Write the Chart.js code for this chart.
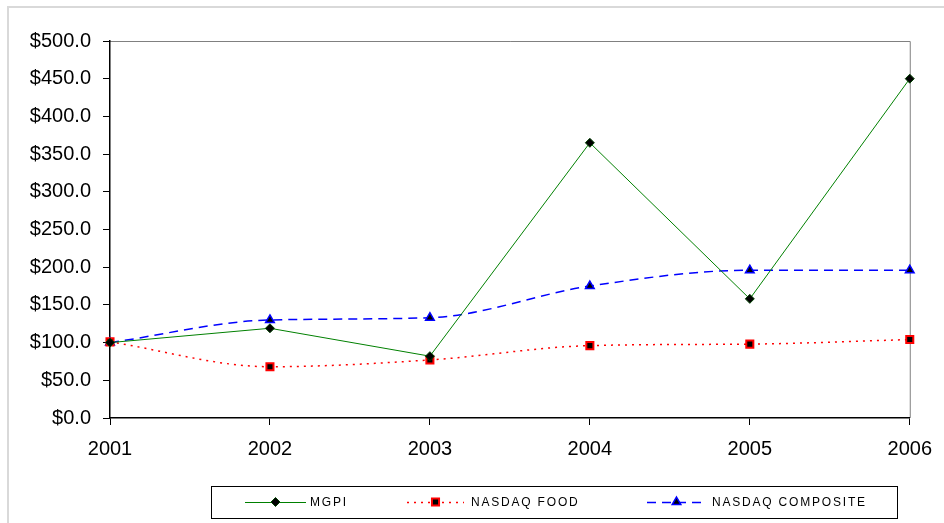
<!DOCTYPE html>
<html>
<head>
<meta charset="utf-8">
<script src="https://cdn.jsdelivr.net/npm/chart.js@4"></script>
<style>
  body { margin: 0; background: #fff; }
  #wrap { width: 944px; height: 523px; position: relative; }
</style>
</head>
<body>
<div id="wrap"><canvas id="perfChart"></canvas></div>
<script>
const years = ['2001', '2002', '2003', '2004', '2005', '2006'];
const mgpi = [100, 119, 82, 365, 158, 450];
const nasdaqFood = [101, 68, 77, 96, 98, 104];
const nasdaqComposite = [100, 130, 133, 175, 196, 196];
const yTicks = [0, 50, 100, 150, 200, 250, 300, 350, 400, 450, 500];

// frame, plot border and the boxed legend at the bottom
const decor = {
    id: 'decor',
    beforeDraw(chart) {
        const ctx = chart.ctx;
        ctx.save();
        ctx.strokeStyle = '#d9d9d9';
        ctx.lineWidth = 2;
        ctx.beginPath();
        ctx.moveTo(8, 523);
        ctx.lineTo(8, 7);
        ctx.lineTo(944, 7);
        ctx.stroke();
        const a = chart.chartArea;
        ctx.strokeStyle = '#808080';
        ctx.lineWidth = 1;
        ctx.beginPath();
        ctx.moveTo(a.left, a.top + 0.5);
        ctx.lineTo(a.right + 0.5, a.top + 0.5);
        ctx.lineTo(a.right + 0.5, a.bottom);
        ctx.stroke();
        ctx.restore();
    },
    afterDraw(chart) {
        const ctx = chart.ctx;
        ctx.save();
        ctx.fillStyle = '#fff';
        ctx.fillRect(211, 486, 686, 32);
        ctx.strokeStyle = '#000';
        ctx.lineWidth = 1;
        ctx.strokeRect(211.5, 486.5, 686, 32);
        const items = [[245, 306, 310], [407, 464, 471], [647, 706, 712]];
        const cy = 502;
        chart.data.datasets.forEach((ds, i) => {
            const [x0, x1, tx] = items[i];
            ctx.strokeStyle = ds.borderColor;
            ctx.lineWidth = ds.borderWidth;
            ctx.setLineDash(ds.borderDash || []);
            ctx.beginPath();
            ctx.moveTo(x0, cy + 0.5);
            ctx.lineTo(x1, cy + 0.5);
            ctx.stroke();
            ctx.setLineDash([]);
            ctx.fillStyle = ds.pointBackgroundColor;
            ctx.strokeStyle = ds.pointBorderColor;
            ctx.lineWidth = ds.pointBorderWidth;
            Chart.helpers.drawPoint(ctx, {
                pointStyle: ds.pointStyle,
                radius: ds.pointRadius,
                borderWidth: ds.pointBorderWidth,
                rotation: 0
            }, (x0 + x1) / 2, cy);
            ctx.fillStyle = '#000';
            ctx.font = '12px "Liberation Sans", Arial, sans-serif';
            ctx.letterSpacing = '1.8px';
            ctx.textBaseline = 'middle';
            ctx.fillText(ds.label, tx, cy + 1);
        });
        ctx.restore();
    }
};

new Chart(document.getElementById('perfChart'), {
    type: 'line',
    data: {
        labels: years,
        datasets: [{
            label: 'MGPI',
            data: mgpi,
            borderColor: '#008000',
            borderWidth: 1,
            tension: 0,
            pointStyle: 'rectRot',
            pointRadius: 4.5,
            pointBackgroundColor: '#000',
            pointBorderColor: '#004000',
            pointBorderWidth: 1
        }, {
            label: 'NASDAQ FOOD',
            data: nasdaqFood,
            borderColor: '#ff0000',
            borderWidth: 1.5,
            borderDash: [2, 5],
            cubicInterpolationMode: 'monotone',
            pointStyle: 'rect',
            pointRadius: 5,
            pointBackgroundColor: '#000',
            pointBorderColor: '#ff0000',
            pointBorderWidth: 2
        }, {
            label: 'NASDAQ COMPOSITE',
            data: nasdaqComposite,
            borderColor: '#0000ff',
            borderWidth: 1.5,
            borderDash: [9, 6],
            cubicInterpolationMode: 'monotone',
            pointStyle: 'triangle',
            pointRadius: 5,
            pointBackgroundColor: '#000',
            pointBorderColor: '#0000ff',
            pointBorderWidth: 1.5
        }]
    },
    options: {
        responsive: true,
        maintainAspectRatio: false,
        animation: false,
        layout: { padding: { left: 0, right: 33, top: 41, bottom: 0 } },
        plugins: {
            legend: { display: false },
            tooltip: { enabled: false }
        },
        scales: {
            x: {
                offset: false,
                afterFit(scale) { scale.height = 105; },
                border: { color: '#000', width: 1.5 },
                grid: { drawOnChartArea: false, color: '#000', tickLength: 7 },
                ticks: {
                    color: '#000',
                    padding: 12,
                    maxRotation: 0,
                    font: { family: '"Liberation Sans", Arial, sans-serif', size: 20 }
                }
            },
            y: {
                min: 0,
                max: 500,
                afterFit(scale) { scale.width = 110; },
                afterBuildTicks(scale) { scale.ticks = yTicks.map(v => ({ value: v })); },
                border: { color: '#000', width: 1.5 },
                grid: { drawOnChartArea: false, color: '#000', tickLength: 7 },
                ticks: {
                    color: '#000',
                    padding: 12,
                    font: { family: '"Liberation Sans", Arial, sans-serif', size: 20 },
                    callback: v => '$' + v.toFixed(1)
                }
            }
        }
    },
    plugins: [decor]
});
</script>
</body>
</html>
